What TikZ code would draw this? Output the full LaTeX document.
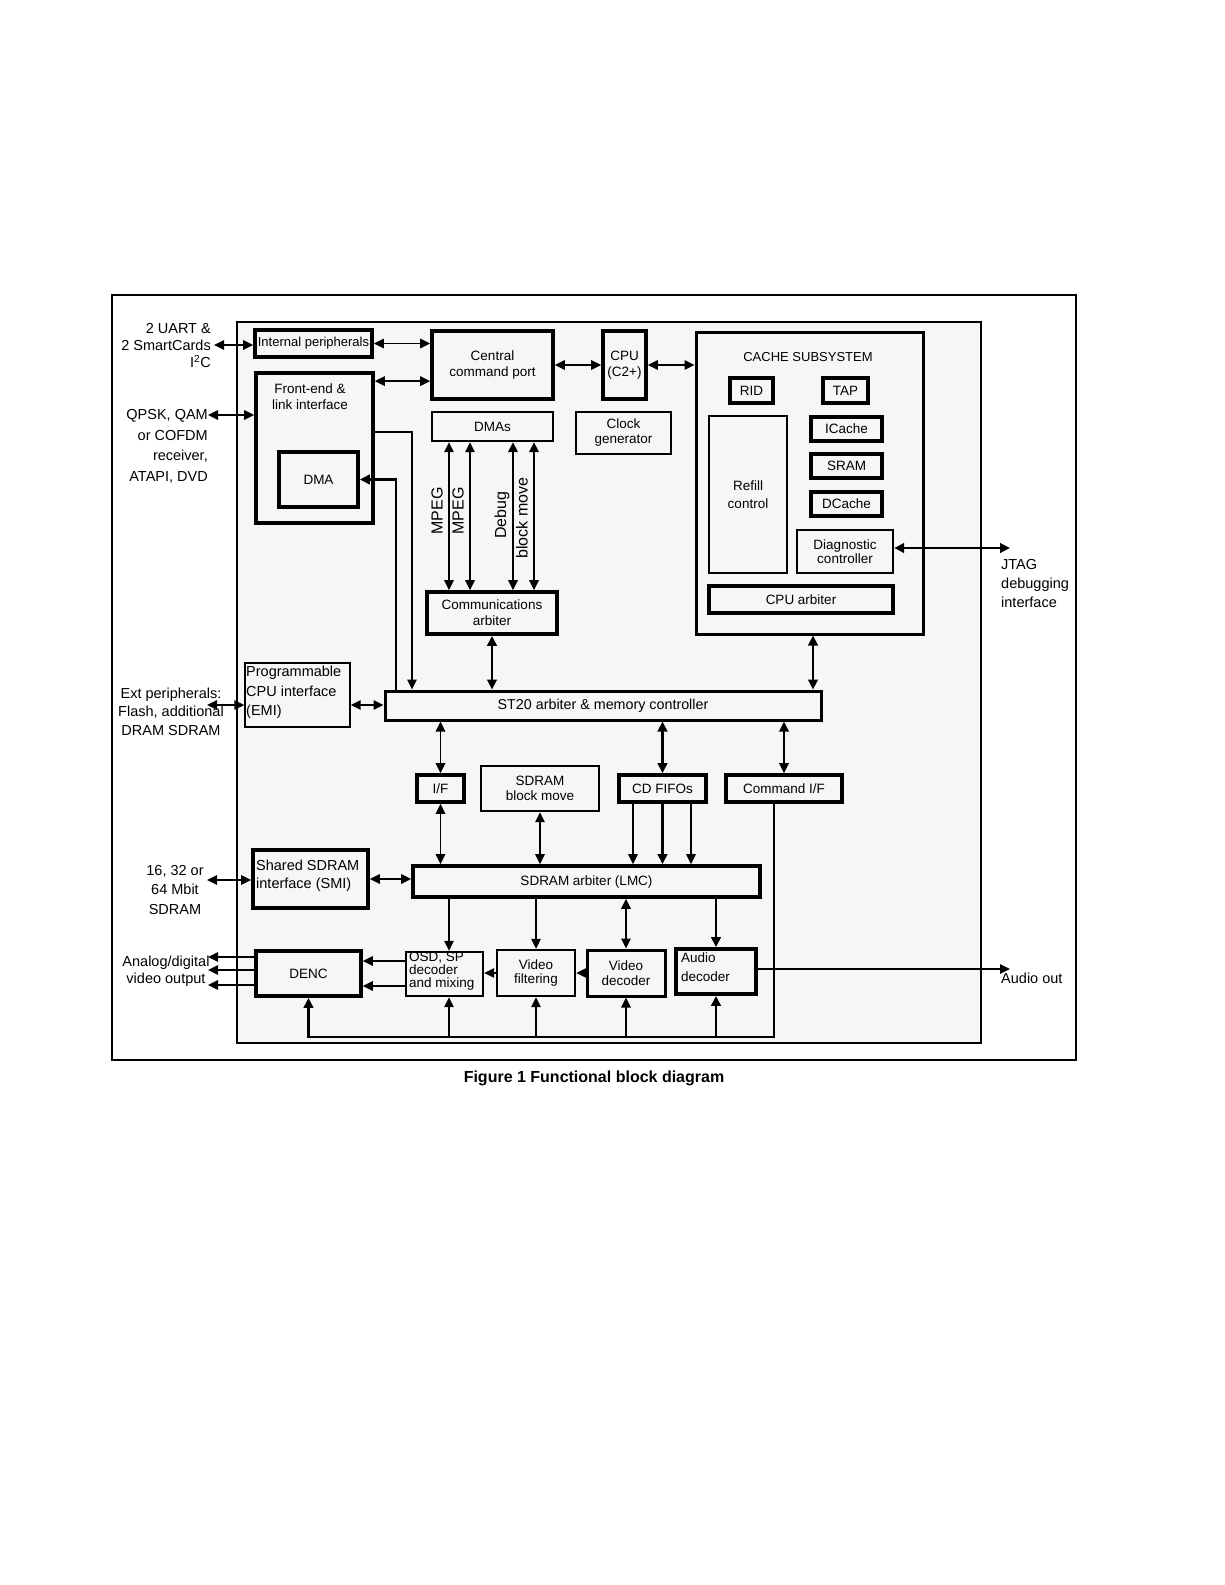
\documentclass[tikz,border=0pt]{standalone}
\usepackage{fontspec}
\setmainfont{Liberation Sans}
\usetikzlibrary{arrows.meta,calc}
\definecolor{panelbg}{RGB}{246,246,246}
\newcommand\fz[2]{\fontsize{#1}{#2}\selectfont}
\begin{document}
\begin{tikzpicture}[x=1pt,y=-1pt,
  >={Triangle[length=10pt,width=9.5pt]},
  box/.style={draw, inner sep=0pt, align=center, font=\fz{13.5}{16}},
  bk/.style={box, line width=3.7pt},
  bm/.style={box, line width=2.4pt},
  bt/.style={box, line width=1.4pt},
  ln/.style={line width=1.5pt},
  lnk/.style={line width=2.9pt},
  lbl/.style={inner sep=0pt, font=\fz{14.5}{19}},
]
\useasboundingbox (0,0) rectangle (1225,1585);
\fill[white] (0,0) rectangle (1225,1585);
% frames
\draw[line width=2pt] (112,295) rectangle (1076,1060);
\draw[line width=1.8pt, fill=panelbg] (237,322) rectangle (981,1043);

% top-left
\node[bk, minimum width=117pt, minimum height=27pt, font=\fz{13}{15}] (ip) at (313.5,343.5) {Internal peripherals};
\node[bk, minimum width=117pt, minimum height=150pt] (fe) at (314.5,448) {};
\node[lbl, align=center, font=\fz{13.5}{16}] (fet) at (310,397) {Front-end \&\\link interface};
\node[bk, minimum width=79pt, minimum height=55pt] (dma) at (318.5,479.5) {DMA};
\node[bk, minimum width=121pt, minimum height=68pt] (ccp) at (492.5,365) {Central\\command port};
\node[bk, minimum width=43pt, minimum height=68pt] (cpu) at (624.5,365) {CPU\\(C2+)};
\node[bm, minimum width=121pt, minimum height=29pt] (dmas) at (492.5,426.5) {DMAs};
\node[bm, minimum width=95pt, minimum height=42pt, font=\fz{13.5}{15}] (clk) at (623.5,433) {Clock\\generator};
\node[bk, minimum width=130pt, minimum height=42pt] (comm) at (492,613) {Communications\\arbiter};

% cache subsystem
\node[bk, line width=3pt, minimum width=227pt, minimum height=302pt] (cache) at (809.5,483) {};
\node[lbl, font=\fz{13}{15}] (ct) at (808,357) {CACHE SUBSYSTEM};
\node[bk, minimum width=43pt, minimum height=25pt] (rid) at (751.5,390.5) {RID};
\node[bk, minimum width=45pt, minimum height=25pt] (tap) at (845.5,390.5) {TAP};
\node[bm, minimum width=78pt, minimum height=157pt, font=\fz{13.5}{18}] (refill) at (748,494.5) {Refill\\control};
\node[bk, minimum width=71pt, minimum height=24pt] (icache) at (846.5,429) {ICache};
\node[bk, minimum width=71pt, minimum height=24pt] (sram) at (846.5,466) {SRAM};
\node[bk, minimum width=71pt, minimum height=24pt] (dcache) at (846.5,504) {DCache};
\node[bm, minimum width=96pt, minimum height=43pt, font=\fz{13.5}{14.5}] (diag) at (845,551.5) {Diagnostic\\controller};
\node[bk, minimum width=184pt, minimum height=27pt] (cpuarb) at (801,599.5) {CPU arbiter};

% middle
\node[bk, line width=3pt, minimum width=436pt, minimum height=29pt, font=\fz{14.3}{16}] (st20) at (603,705.5) {ST20 arbiter \& memory controller};
\node[bt, minimum width=105pt, minimum height=64pt] (emi) at (297.5,695) {};
\node[lbl, anchor=west, align=left, font=\fz{14.5}{19.5}] (emit) at (246,692.5) {Programmable\\CPU interface\\(EMI)};
\node[bk, minimum width=47pt, minimum height=27pt] (ifb) at (440.5,788.5) {I/F};
\node[bm, minimum width=118pt, minimum height=45pt, font=\fz{13.5}{15}] (sbm) at (540,788.5) {SDRAM\\block move};
\node[bk, minimum width=87pt, minimum height=27pt] (cdf) at (662.5,788.5) {CD FIFOs};
\node[bk, minimum width=116pt, minimum height=27pt] (cmdif) at (784,788.5) {Command I/F};
\node[bk, minimum width=347pt, minimum height=31pt] (lmc) at (586.5,881.5) {SDRAM arbiter (LMC)};
\node[bk, minimum width=115pt, minimum height=58pt] (smi) at (310.5,879) {};
\node[lbl, anchor=west, align=left, font=\fz{14.5}{18}] (smit) at (256,876) {Shared SDRAM\\interface (SMI)};

% bottom row
\node[bk, minimum width=105pt, minimum height=45pt] (denc) at (308.5,973.5) {DENC};
\node[bm, minimum width=77pt, minimum height=44pt] (osd) at (444.5,974) {};
\node[lbl, anchor=west, align=left, font=\fz{13.5}{13}] (osdt) at (409,971) {OSD, SP\\decoder\\and mixing};
\node[bm, minimum width=78pt, minimum height=46pt, font=\fz{13.5}{14.5}] (vf) at (536,973) {Video\\filtering};
\node[bk, line width=3pt, minimum width=78pt, minimum height=46pt, font=\fz{13.5}{14.5}] (vd) at (626,973) {Video\\decoder};
\node[bk, minimum width=80pt, minimum height=45pt] (ad) at (716,971.5) {};
\node[lbl, anchor=west, align=left, font=\fz{13.5}{19}] (adt) at (681,967.5) {Audio\\decoder};

% outside labels
\node[lbl, anchor=east, align=right, font=\fz{14.5}{17}] (uart) at (211,346) {2 UART \&\\2 SmartCards\\I\textsuperscript{2}C};
\node[lbl, anchor=east, align=right, font=\fz{14.5}{20.5}] (qpskt) at (208,446.5) {QPSK, QAM\\or COFDM\\receiver,\\ATAPI, DVD};
\node[lbl, anchor=east, align=center, font=\fz{14.5}{18.5}] (extt) at (224,711.5) {Ext peripherals:\\Flash, additional\\DRAM SDRAM};
\node[lbl, align=center, font=\fz{14.5}{19.5}] (sdrt) at (175,889.5) {16, 32 or\\64 Mbit\\SDRAM};
\node[lbl, align=center, font=\fz{14.5}{17}] (avt) at (166,971.5) {Analog/digital\\video output};
\node[lbl, anchor=west, align=left, font=\fz{14.5}{19}] (jtagt) at (1001,583.5) {JTAG\\debugging\\interface};
\node[lbl, anchor=west] (audt) at (1001,978) {Audio out};
\node[lbl, font=\fz{16}{18}\bfseries] (cap) at (594,1078) {Figure 1 Functional block diagram};

% rotated labels
\node[lbl, rotate=90, font=\fz{16}{18}] (lm1) at (437,511) {MPEG};
\node[lbl, rotate=90, font=\fz{16}{18}] (lm2) at (458,511) {MPEG};
\node[lbl, rotate=90, font=\fz{16}{18}] (ldb) at (502,515) {Debug};
\node[lbl, rotate=90, font=\fz{16}{18}] (lbm) at (522,518) {block move};

% free ends
\coordinate (e1) at (214,345);
\coordinate (e2) at (208,415);
\coordinate (e3) at (207,705);
\coordinate (e4) at (207,880);
\coordinate (ao1) at (208,957);
\coordinate (ao2) at (208,970);
\coordinate (ao3) at (208,985);
\coordinate (jtag) at (1010,548);
\coordinate (aud) at (1010,969);
\coordinate (busy) at (0,1037);

% helper points on nodes
\coordinate (fe1) at ($(fe.north east)+(0,10)$);
\coordinate (d1) at ($(dmas.south)+(-43.5,0)$);
\coordinate (d2) at ($(dmas.south)+(-22.5,0)$);
\coordinate (d3) at ($(dmas.south)+(20.5,0)$);
\coordinate (d4) at ($(dmas.south)+(41.5,0)$);
\coordinate (c1) at ($(cache.south)+(3.5,0)$);
\coordinate (f1) at ($(fe.east)+(0,-16)$);
\coordinate (s1) at ($(st20.north)+(-191,0)$);
\coordinate (s2) at ($(st20.north)+(-207,0)$);
\coordinate (m1) at ($(emi.east)+(0,10)$);
\coordinate (k1) at ($(cdf.south)+(-29.5,0)$);
\coordinate (k3) at ($(cdf.south)+(28.5,0)$);
\coordinate (q1) at ($(cmdif.south)+(-10,0)$);
\coordinate (o1) at ($(osd.south)+(4.5,0)$);
\coordinate (o2) at ($(osd.north)+(4.5,0)$);
\coordinate (p1) at ($(osd.west)+(0,-13)$);
\coordinate (p2) at ($(osd.west)+(0,12)$);

% connectors top
\draw[ln,<->] (e1) -- (e1 -| ip.west);
\draw[ln,<->] (ip.east) -- (ip.east -| ccp.west);
\draw[ln,<->] (fe1) -- (fe1 -| ccp.west);
\draw[ln,<->] (e2) -- (e2 -| fe.west);
\draw[ln,<->] (ccp.east) -- (cpu.west);
\draw[ln,<->] (cpu.east) -- (cpu.east -| cache.west);
\draw[ln,<->] (d1) -- (d1 |- comm.north);
\draw[ln,<->] (d2) -- (d2 |- comm.north);
\draw[line width=2pt,<->] (d3) -- (d3 |- comm.north);
\draw[line width=2pt,<->] (d4) -- (d4 |- comm.north);
\draw[lnk,<->] (comm.south) -- (comm.south |- st20.north);
\draw[lnk,<->] (c1) -- (c1 |- st20.north);
\draw[ln,->] (f1) -| (s1);
\draw[lnk,->] (s2) |- (dma.east);
\draw[lnk,<->] (jtag -| diag.east) -- (jtag);

% connectors middle
\draw[ln,<->] (e3) -- (e3 -| emi.west);
\draw[ln,<->] (m1) -- (m1 -| st20.west);
\draw[ln,<->] (ifb.north) -- (ifb.north |- st20.south);
\draw[ln,<->] (ifb.south) -- (ifb.south |- lmc.north);
\draw[ln,<->] (sbm.south) -- (sbm.south |- lmc.north);
\draw[lnk,<->] (cdf.north) -- (cdf.north |- st20.south);
\draw[ln,->] (k1) -- (k1 |- lmc.north);
\draw[lnk,->] (cdf.south) -- (cdf.south |- lmc.north);
\draw[ln,->] (k3) -- (k3 |- lmc.north);
\draw[line width=1.8pt,<->] (cmdif.north) -- (cmdif.north |- st20.south);
\draw[ln,<->] (e4) -- (e4 -| smi.west);
\draw[ln,<->] (smi.east) -- (smi.east -| lmc.west);

% connectors bottom
\draw[ln,->] (o2 |- lmc.south) -- (o2);
\draw[ln,->] (vf.north |- lmc.south) -- (vf.north);
\draw[ln,<->] (vd.north |- lmc.south) -- (vd.north);
\draw[lnk,->] (ad.north |- lmc.south) -- (ad.north);
\draw[ln,->] (vd.west) -- (vf.east);
\draw[ln,->] (vf.west) -- (vf.west -| osd.east);
\draw[ln,->] (p1) -- (p1 -| denc.east);
\draw[ln,->] (p2) -- (p2 -| denc.east);
\draw[ln,->] (ao1 -| denc.west) -- (ao1);
\draw[ln,->] (ao2 -| denc.west) -- (ao2);
\draw[ln,->] (ao3 -| denc.west) -- (ao3);
\draw[ln,->] (aud -| ad.east) -- (aud);
\draw[lnk,->] (q1) |- (denc.south |- busy) -- (denc.south);
\draw[ln,->] (o1 |- busy) -- (o1);
\draw[ln,->] (vf.south |- busy) -- (vf.south);
\draw[ln,->] (vd.south |- busy) -- (vd.south);
\draw[lnk,->] (ad.south |- busy) -- (ad.south);
\end{tikzpicture}
\end{document}
